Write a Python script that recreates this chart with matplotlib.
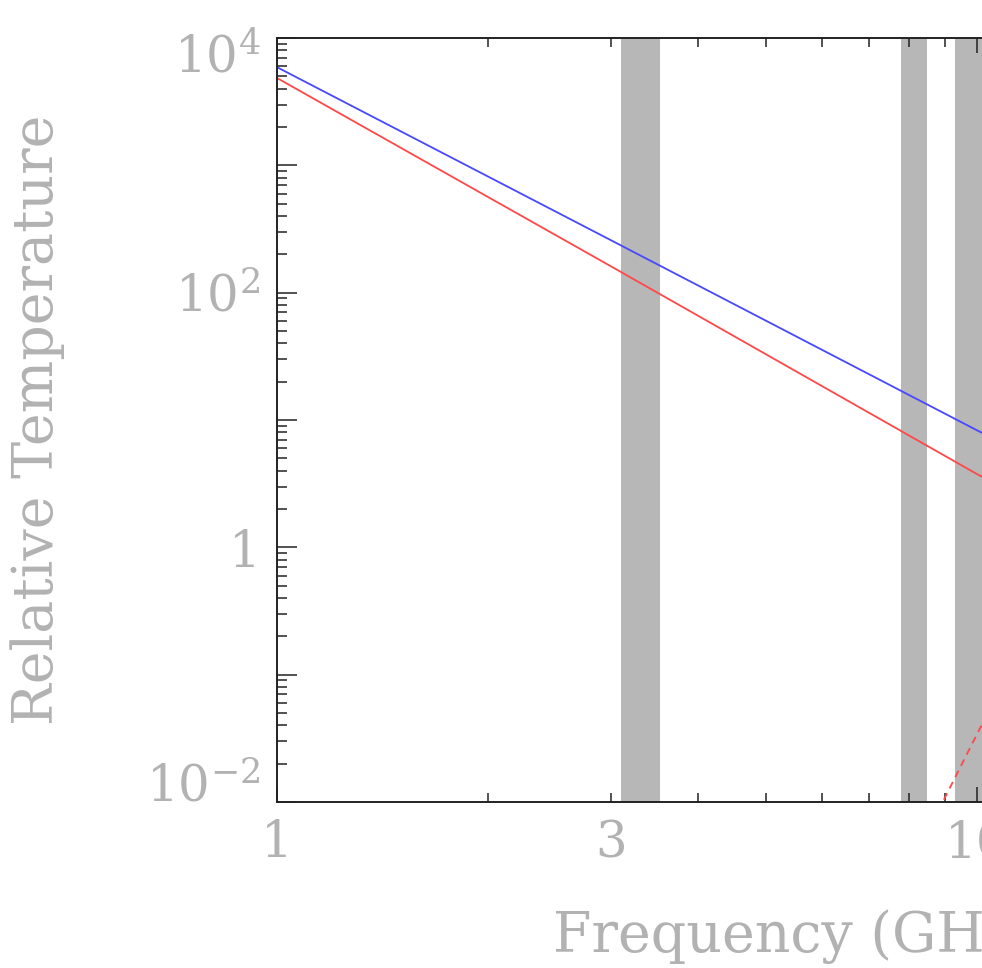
import matplotlib
matplotlib.use("Agg")
import matplotlib.pyplot as plt
import matplotlib.transforms as mtransforms
from matplotlib.ticker import LogLocator, NullFormatter

# values
freq = [1, 3, 10, 12]
temp_blue = [5900, 258, 8.3, 5.0]
temp_red = [4850, 161, 3.76, 2.19]
freq_dash = [8.8, 10.1, 12]
temp_dash = [0.0085, 0.038, 0.22]
band_lo = [3.10, 7.80, 9.30]
band_hi = [3.52, 8.48, 10.7]
xmajor_pos = [1, 10]
xmajor_txt = ["1", "10"]
xminor_pos = [2, 3, 4, 5, 6, 7, 8, 9, 20, 30]
xminor_txt = ["", "3", "", "", "", "", "", "", "", ""]
ytick_pos = [1e-2, 1e-1, 1, 1e1, 1e2, 1e3, 1e4]
ytick_txt = [r"$10^{-2}$", "", "1", "", r"$10^{2}$", "", r"$10^{4}$"]
# the end labels sit inside the axis range in the original (points, + is up)
ytick_shift = [14, 0, 0, 0, 0, 0, -11]

GREY = "#b2b2b2"
plt.rcParams["font.family"] = ["DejaVu Serif"]
plt.rcParams["mathtext.fontset"] = "dejavuserif"

W, H = 982, 968
fig = plt.figure(figsize=(W / 100, H / 100), dpi=100)
# axes run past the right edge of the figure, like the cropped original
left, right, top, bottom = 277, 1311, 38, 802
ax = fig.add_axes([left / W, 1 - bottom / H, (right - left) / W, (bottom - top) / H])

for lo, hi in zip(band_lo, band_hi):
    ax.axvspan(lo, hi, color="#b7b7b7", lw=0, zorder=1)

ax.plot(freq, temp_blue, color="#4848ff", lw=1.3, zorder=3)
ax.plot(freq, temp_red, color="#ff4848", lw=1.3, zorder=3)
ax.plot(freq_dash, temp_dash, color="#ff4848", lw=1.3, ls=(0, (4, 3)), zorder=3)

ax.set_xscale("log")
ax.set_yscale("log")
ax.set_xlim(1, 30)
ax.set_ylim(1e-2, 1e4)

ax.set_xticks(xmajor_pos, xmajor_txt)
ax.set_xticks(xminor_pos, xminor_txt, minor=True)
ax.set_yticks(ytick_pos, ytick_txt)
ax.yaxis.set_minor_locator(LogLocator(base=10, subs=range(2, 10), numticks=20))
ax.yaxis.set_minor_formatter(NullFormatter())

ax.tick_params(which="both", direction="in", top=True, right=True, colors="#222222",
               labelcolor=GREY, labelsize=36, width=1.1)
ax.tick_params(axis="y", which="major", length=14.4, pad=12)
ax.tick_params(axis="y", which="minor", length=7.2)
ax.tick_params(axis="x", which="major", length=10.8, pad=12)
ax.tick_params(axis="x", which="minor", length=6.5, pad=12)
for s in ax.spines.values():
    s.set_linewidth(1.4)
    s.set_color("#222222")
    s.set_zorder(4)

for lab, dy in zip(ax.get_yticklabels(), ytick_shift):
    lab.set_transform(lab.get_transform() + mtransforms.ScaledTranslation(0, dy / 72, fig.dpi_scale_trans))

ax.set_xlabel("Frequency (GHz)", fontsize=40, color=GREY)
ax.set_ylabel("Relative Temperature", fontsize=40, color=GREY)
ax.xaxis.set_label_coords(0.5, -0.14)
ax.yaxis.set_label_coords(-0.205, 0.5)

fig.savefig("out.png", dpi=100)
